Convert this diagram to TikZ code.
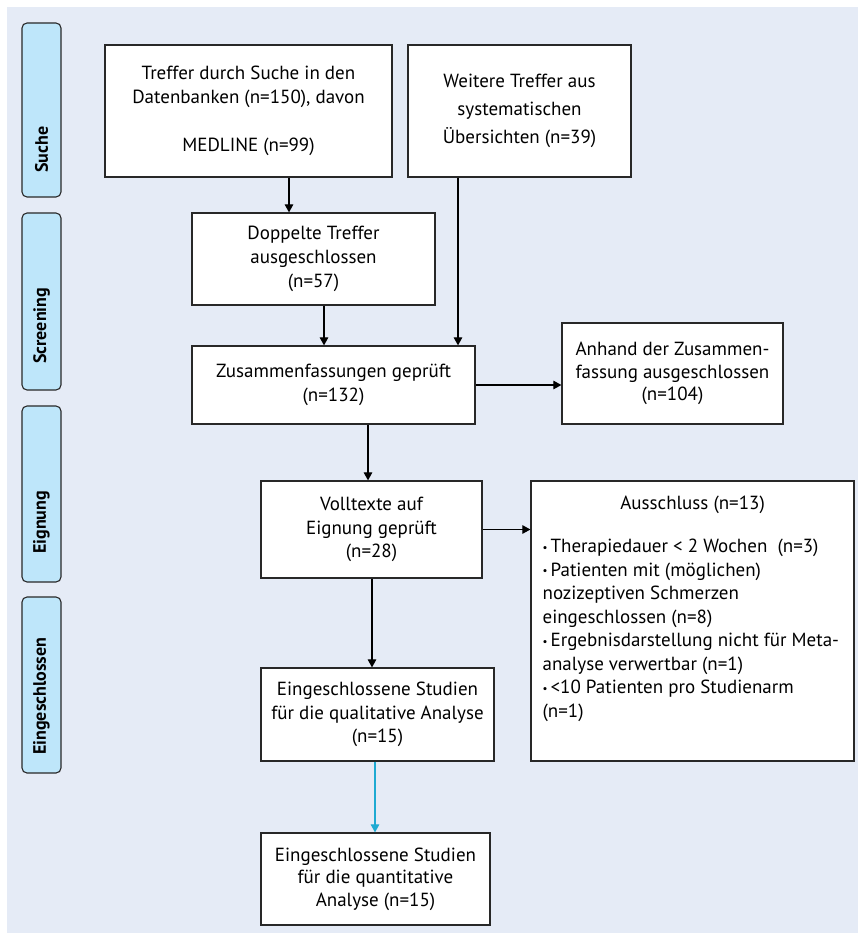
\documentclass[tikz,border=0pt]{standalone}
\usepackage{fontspec}
\setmainfont{PT Sans}
\usetikzlibrary{arrows.meta,calc}
\definecolor{bgc}{RGB}{229,235,246}
\definecolor{lblc}{RGB}{190,230,250}
\definecolor{linec}{RGB}{40,40,40}
\definecolor{bluec}{RGB}{30,170,210}
\newcommand\bitem{\par\hangindent=8pt\hangafter=1\noindent\makebox[8pt][l]{\raisebox{1.5pt}{\fontsize{11}{11}\selectfont\textbullet}}}
\begin{document}
\begin{tikzpicture}[x=1pt,y=-1pt,
 box/.style={draw=linec,line width=1.2pt,fill=white,inner sep=0pt,align=center,font=\fontsize{19}{24}\selectfont},
 lbl/.style={draw=linec,line width=1.1pt,fill=lblc,rounded corners=5pt,rotate=90,minimum height=39pt,inner sep=0pt},
 lbltxt/.style={rotate=90,anchor=west,inner sep=0pt,font=\fontsize{18}{20}\selectfont\bfseries},
 arr/.style={-{Triangle[length=8pt,width=8.5pt]},line width=1.1pt,draw=black},
 barr/.style={-{Triangle[length=8pt,width=8.5pt]},line width=1.1pt,draw=bluec}
]
\useasboundingbox (0,0) rectangle (858,933);
\fill[bgc] (7,7) rectangle (858,933);

% phase labels
\node[lbl,minimum width=174pt] (l1) at (41.5,110) {};
\node[lbltxt] (t1) at (41.5,173) {Suche};
\node[lbl,minimum width=177pt] (l2) at (41.5,301.5) {};
\node[lbltxt] (t2) at (41.5,364) {Screening};
\node[lbl,minimum width=176pt] (l3) at (41.5,494) {};
\node[lbltxt] (t3) at (41.5,554) {Eignung};
\node[lbl,minimum width=176pt] (l4) at (41.5,685) {};
\node[lbltxt] (t4) at (41.5,755) {Eingeschlossen};

% boxes
\node[box,minimum width=287pt,minimum height=132pt] (b1) at (248.5,111)
 {Treffer durch Suche in den\\Datenbanken (n=150), davon\\[24pt]MEDLINE (n=99)};
\node[box,minimum width=223pt,minimum height=132pt,font=\fontsize{19}{28}\selectfont] (b2) at (519.5,111)
 {Weitere Treffer aus\\systematischen\\Übersichten (n=39)};
\node[box,minimum width=243pt,minimum height=92pt] (b3) at (313.5,259)
 {Doppelte Treffer\\ausgeschlossen\\(n=57)};
\node[box,minimum width=283pt,minimum height=78pt] (b4) at (333.5,385)
 {Zusammenfassungen geprüft\\(n=132)};
\node[box,minimum width=221pt,minimum height=101pt,font=\fontsize{19}{22.5}\selectfont] (b5) at (672.5,373.5)
 {Anhand der Zusammen-\\fassung ausgeschlossen\\(n=104)};
\node[box,minimum width=221pt,minimum height=97pt,font=\fontsize{19}{23.5}\selectfont] (b6) at (371.5,529.5)
 {Volltexte auf\\Eignung geprüft\\(n=28)};
\node[box,minimum width=323pt,minimum height=280pt] (b7) at (692.5,621) {};
\node[anchor=north west,inner sep=0pt,font=\fontsize{19}{23.5}\selectfont] (b7t) at ($(b7.north west)+(12,0)$)
 {\parbox[t]{300pt}{\centering\rule{0pt}{29pt}Ausschluss (n=13)\par
 \vspace{19.5pt}\raggedright
 \bitem Therapiedauer < 2 Wochen\ \ (n=3)
 \bitem Patienten mit (möglichen)\\nozizeptiven Schmerzen\\eingeschlossen (n=8)
 \bitem Ergebnisdarstellung nicht für Meta-\\analyse verwertbar (n=1)
 \bitem <10 Patienten pro Studienarm\\(n=1)\par}};
\node[box,minimum width=233pt,minimum height=93pt,font=\fontsize{19}{23.5}\selectfont] (b8) at (377.5,714.5)
 {Eingeschlossene Studien\\für die qualitative Analyse\\(n=15)};
\node[box,minimum width=229pt,minimum height=92pt,font=\fontsize{19}{22.5}\selectfont] (b9) at (375.5,879)
 {Eingeschlossene Studien\\für die quantitative\\Analyse (n=15)};

% connectors
\draw[arr] (289,0 |- b1.south) -- (289,0 |- b3.north);
\draw[arr] (458,0 |- b2.south) -- (458,0 |- b4.north);
\draw[arr] (324,0 |- b3.south) -- (324,0 |- b4.north);
\draw[arr] (b4.east) -- (b4.east -| b5.west);
\draw[arr] (368,0 |- b4.south) -- (368,0 |- b6.north);
\draw[arr] (b6.east) -- (b6.east -| b7.west);
\draw[arr] (372,0 |- b6.south) -- (372,0 |- b8.north);
\draw[barr] (375,0 |- b8.south) -- (375,0 |- b9.north);
\end{tikzpicture}
\end{document}
